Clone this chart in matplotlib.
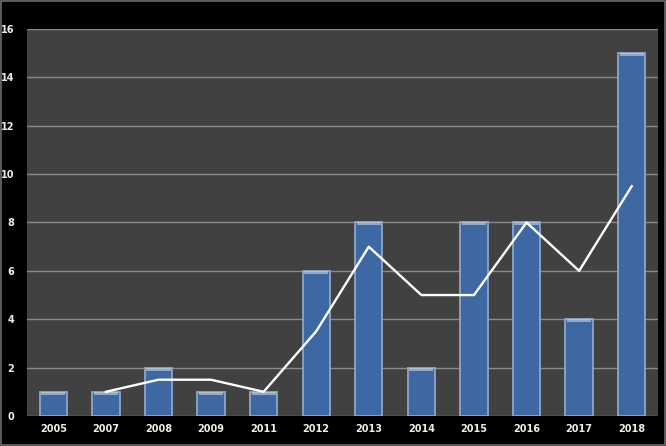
import matplotlib
matplotlib.use("Agg")
import matplotlib.pyplot as plt
from matplotlib.patches import Rectangle
import numpy as np

years = ["2005", "2007", "2008", "2009", "2011", "2012", "2013", "2014", "2015", "2016", "2017", "2018"]
counts = [1, 1, 2, 1, 1, 6, 8, 2, 8, 8, 4, 15]
# 2-period moving average (starts at second category)
ma_values = [None, 1, 1.5, 1.5, 1, 3.5, 7, 5, 5, 8, 6, 9.5]
y_ticks = [0, 2, 4, 6, 8, 10, 12, 14, 16]

fig = plt.figure(figsize=(6.66, 4.46), dpi=100, facecolor="black")
ax = fig.add_axes([0.0405, 0.0673, 0.9475, 0.8677])
ax.set_facecolor("#414141")

x = np.arange(len(years))
ax.bar(x, counts, width=0.52, color="#3E68A3", edgecolor="#8FA6C6", linewidth=1.3, zorder=3)
# top highlight
ax.bar(x, [0.12] * len(x), bottom=np.array(counts) - 0.12, width=0.46, color="#C9D6E8", linewidth=0, zorder=4, alpha=0.6)

mx = [xi for xi, v in zip(x, ma_values) if v is not None]
my = [v for v in ma_values if v is not None]
ax.plot(mx, my, color="white", linewidth=1.7, zorder=5)

ax.set_xlim(-0.5, len(years) - 0.5)
ax.set_ylim(0, 16)
ax.set_yticks(y_ticks)
ax.set_xticks(x)
ax.set_xticklabels(years)
ax.yaxis.grid(True, color="#8A8A8A", linewidth=1)
ax.set_axisbelow(True)
for s in ax.spines.values():
    s.set_visible(False)
ax.tick_params(length=0, colors="#EDEDED", labelsize=7)
for lbl in ax.get_xticklabels() + ax.get_yticklabels():
    lbl.set_fontweight("bold")
ax.tick_params(axis="y", pad=9)
ax.tick_params(axis="x", pad=6)

fig.patches.append(Rectangle((0.001, 0.002), 0.997, 0.996, transform=fig.transFigure,
                             fill=False, edgecolor="#6E6E6E", linewidth=1.2))

fig.savefig("out.png", dpi=100, facecolor="black")
